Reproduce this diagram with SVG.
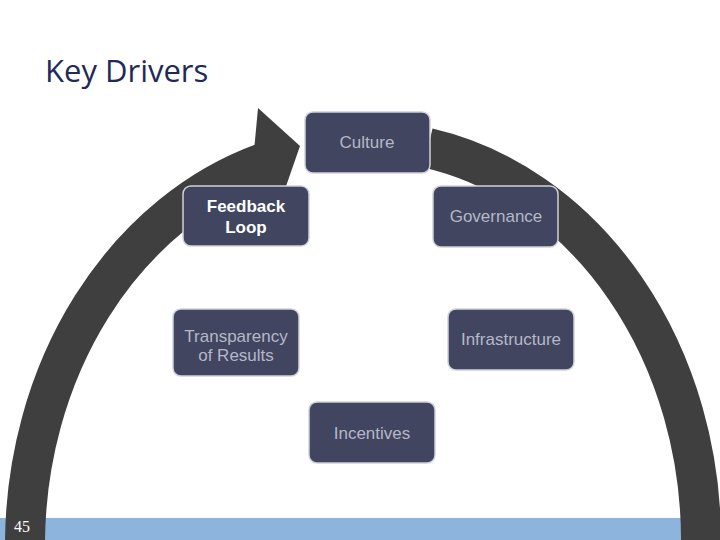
<svg xmlns="http://www.w3.org/2000/svg" width="720" height="540" viewBox="0 0 720 540">
<style>
.n{fill:#41455f;stroke:#cfd1da;stroke-width:1.5}
.t{font-family:"Liberation Sans",Arial,sans-serif;font-size:17px;fill:#b4b8c8;text-anchor:middle}
</style>
<rect width="720" height="540" fill="#fff"/>
<rect x="0" y="518" width="720" height="22" fill="#8db4dc"/>
<text x="45" y="82" font-family="Open Sans,Liberation Sans,sans-serif" font-size="31" fill="#1f2a5a">Key Drivers</text>
<g id="connectors" fill="none" stroke="#3f3f3f" stroke-width="40">
<path d="M25,545 A338,400 0 0 1 266,162"/>
<path d="M428,148 A338,400 0 0 1 701,545"/>
<polygon points="258,108 300,146 284,192 250,194" fill="#3f3f3f" stroke="none"/>
</g>
<text x="14" y="532" font-family="Liberation Serif,serif" font-size="16" fill="#fff">45</text>
<g id="culture"><rect class="n" x="305" y="112" width="125" height="61" rx="8"/><text class="t" x="367" y="148">Culture</text></g>
<g id="feedback"><rect class="n" x="183" y="186" width="126" height="60" rx="8"/><text class="t" x="246" y="212" style="fill:#fff;font-weight:bold">Feedback</text><text class="t" x="246" y="233" style="fill:#fff;font-weight:bold">Loop</text></g>
<g id="governance"><rect class="n" x="433" y="186" width="125" height="61" rx="8"/><text class="t" x="496" y="222">Governance</text></g>
<g id="transparency"><rect class="n" x="173" y="309" width="126" height="67" rx="8"/><text class="t" x="236" y="342">Transparency</text><text class="t" x="236" y="361">of Results</text></g>
<g id="infrastructure"><rect class="n" x="448" y="309" width="126" height="61" rx="8"/><text class="t" x="511" y="345">Infrastructure</text></g>
<g id="incentives"><rect class="n" x="309" y="402" width="126" height="61" rx="8"/><text class="t" x="372" y="439">Incentives</text></g>
</svg>
